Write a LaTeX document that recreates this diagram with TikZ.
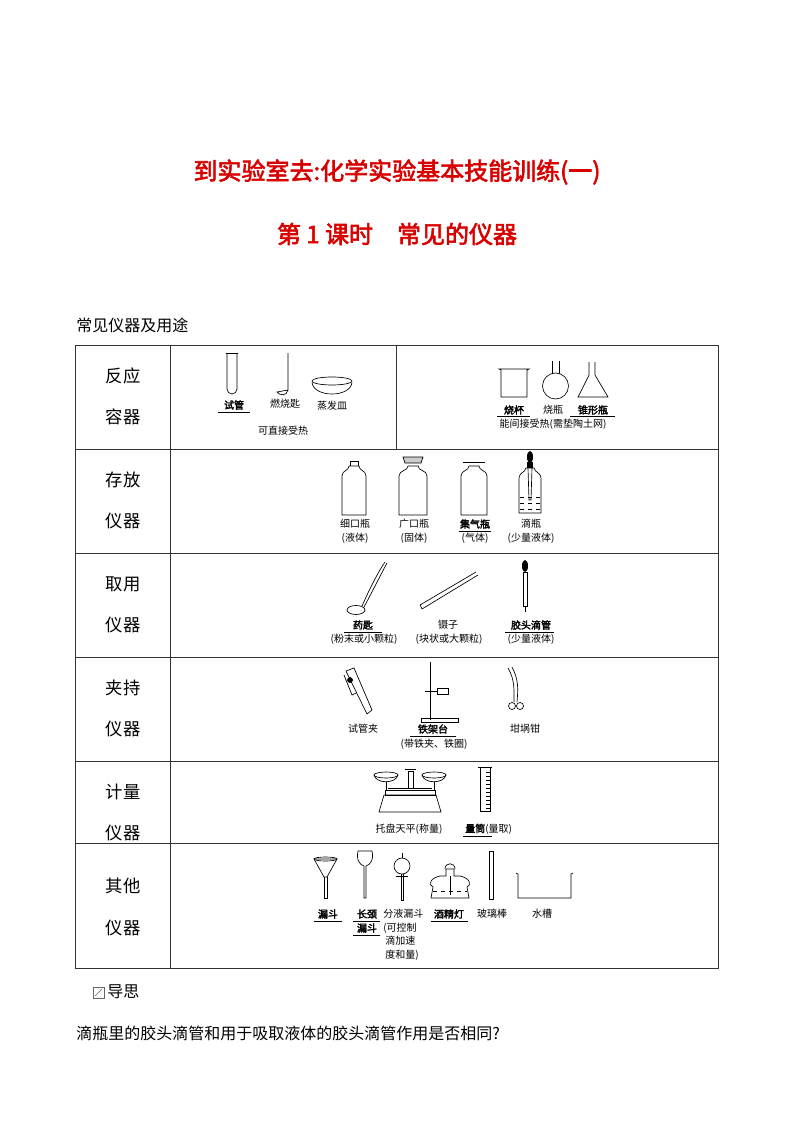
\documentclass[tikz,border=0pt]{standalone}
\usepackage{fontspec}
\setmainfont{Noto Sans CJK SC}[AutoFakeBold=2.5]
\begin{document}
\begin{tikzpicture}[x=0.75pt,y=-0.75pt,
  tb/.style={line width=0.6pt,draw=black!80},
  ins/.style={line width=0.5pt,draw=black},
  capt/.style={font=\fontsize{7.5}{9}\selectfont,inner sep=0pt,anchor=center},
  bcapt/.style={capt,font=\fontsize{7.5}{9}\selectfont\bfseries},
  rowlab/.style={font=\fontsize{13}{15}\selectfont,inner sep=0pt},
  uline/.style={line width=0.5pt}]
\useasboundingbox (0,0) rectangle (794,1123);
\fill[white] (0,0) rectangle (794,1123);
% titles
\node[text=red!85!black,font=\fontsize{18}{20}\selectfont\bfseries] (t1) at (397,172) {到实验室去:化学实验基本技能训练(一)};
\node[text=red!85!black,font=\fontsize{18}{20}\selectfont\bfseries] (t2) at (397,234) {第 1 课时\quad 常见的仪器};
\node[font=\fontsize{12}{14}\selectfont,anchor=west,inner sep=0pt] (h) at (76,325) {常见仪器及用途};
% table
\draw[tb] (75,345) rectangle (718,968);
\foreach \y in {449,553,657,761,843} \draw[tb] (75,\y) -- (718,\y);
\draw[tb] (170,345) -- (170,968);
\draw[tb] (396,345) -- (396,449);
\foreach \y/\a/\b in {345/反应/容器,449/存放/仪器,553/取用/仪器,657/夹持/仪器,761/计量/仪器} {
  \node[rowlab] at (123,\y+31) {\a};
  \node[rowlab] at (123,\y+72) {\b};
}
\node[rowlab] (r6a) at (123,886) {其他};
\node[rowlab] (r6b) at (123,928) {仪器};
% ---- row 1
\draw[ins] (227,353) -- (227,389) arc (180:0:5) -- (237,353);
\draw[ins] (226,353) -- (238,353);
\draw[ins] (288,353) -- (288,390) .. controls (287,396) and (280,396) .. (277,392) -- (288,390);
\draw[ins] (312,382) .. controls (313,398) and (351,398) .. (352,382);
\draw[ins] (332,381) ellipse (20 and 4);
\node[bcapt] (l11) at (234,405) {试管};
\draw[uline] (218,412) -- (250,412);
\node[capt] (l12) at (285,404) {燃烧匙};
\node[capt] (l13) at (332,406) {蒸发皿};
\node[capt] (l14) at (283,431) {可直接受热};
\draw[ins] (499,369) -- (501,370) -- (501,397) -- (527,397) -- (527,370) -- (529,369) -- cycle;
\draw[ins] (552,361) -- (552,373.5);
\draw[ins] (559,361) -- (559,373.5);
\draw[ins] (555.5,386) circle (13);
\draw[ins] (589,362) -- (589,375) -- (578,397) -- (608,397) -- (595,375) -- (595,362);
\node[bcapt] (l15) at (514,410) {烧杯};
\node[capt] (l16) at (553,410) {烧瓶};
\node[bcapt] (l17) at (593,410) {锥形瓶};
\draw[uline] (497,416) -- (530,416);
\draw[uline] (570,416) -- (615,416);
\node[capt] (l18) at (553,424) {能间接受热(需垫陶土网)};
% ---- row 2
\foreach \cx/\hw in {354/12,413/14,474/13} {
  \draw[ins] (\cx-\hw,476) .. controls (\cx-\hw,470) and (\cx-5,471) .. (\cx-5,466) -- (\cx+5,466) .. controls (\cx+5,471) and (\cx+\hw,470) .. (\cx+\hw,476) -- (\cx+\hw,515) -- (\cx-\hw,515) -- cycle;
}
\draw[ins] (350,466) -- (350,461) -- (358,461) -- (358,466);
\draw[ins,fill=black!20] (405,463) -- (403,457) -- (423,457) -- (421,463) -- cycle;
\draw[ins] (463,462) -- (485,462);
\draw[ins] (519,479) -- (519,513) -- (541,513) -- (541,479) .. controls (541,472) and (535,473) .. (534,468) -- (526,468) .. controls (525,473) and (519,472) .. (519,479);
\fill (527,462) rectangle (533,468);
\fill (530,457) ellipse (3 and 6);
\draw[ins] (528,468) -- (529,500) -- (531,500) -- (532,468);
\draw[ins,dashed] (520,497) -- (540,497);
\draw[ins,dashed] (520,503) -- (540,503);
\draw[ins,dashed] (520,509) -- (540,509);
\node[capt] (l21) at (355,524) {细口瓶};
\node[capt] (l22) at (355,538) {(液体)};
\node[capt] (l23) at (414,524) {广口瓶};
\node[capt] (l24) at (414,538) {(固体)};
\node[bcapt] (l25) at (475,524) {集气瓶};
\draw[uline] (459,531) -- (491,531);
\node[capt] (l26) at (475,538) {(气体)};
\node[capt] (l27) at (531,524) {滴瓶};
\node[capt] (l28) at (531,538) {(少量液体)};
% ---- row 3
\draw[ins] (385,562) .. controls (376,575) and (366,597) .. (362,606);
\draw[ins] (387,563) .. controls (379,578) and (369,598) .. (364,607);
\draw[ins] (356,610) ellipse (9 and 4.5);
\draw[ins] (420,605) -- (476,572);
\draw[ins] (422,609) -- (478,575);
\draw[ins] (420,605) -- (422,609);
\fill (525,566) ellipse (3 and 6);
\draw[ins] (523,572) rectangle (527,606);
\draw[ins] (525,606) -- (525,612);
\node[bcapt] (l31) at (363,625) {药匙};
\draw[uline] (344,632) -- (382,632);
\node[capt] (l32) at (364,639) {(粉末或小颗粒)};
\node[capt] (l33) at (448,625) {镊子};
\node[capt] (l34) at (449,639) {(块状或大颗粒)};
\node[bcapt] (l35) at (531,625) {胶头滴管};
\draw[uline] (505,632) -- (554,632);
\node[capt] (l36) at (531,639) {(少量液体)};
% ---- row 4
\draw[ins] (346,671) -- (354,668) -- (372,710) -- (367,714) -- cycle;
\draw[ins,fill=black] (350,680) circle (2.5);
\draw[ins] (344,675) -- (352,695) -- (356,693);
\draw[ins] (430,662) -- (430,720);
\draw[ins] (421,718) rectangle (458,722);
\draw[ins] (425,691) -- (437,691);
\draw[ins] (437,688) rectangle (448,694);
\draw[ins] (508,668) .. controls (515,680) and (514,690) .. (514,702);
\draw[ins] (512,667) .. controls (519,680) and (518,690) .. (517,702);
\draw[ins] (512,706) circle (3.5);
\draw[ins] (520,706) circle (3.5);
\node[capt] (l41) at (363,729) {试管夹};
\node[bcapt] (l42) at (433,729) {铁架台};
\draw[uline] (410,736) -- (456,736);
\node[capt] (l43) at (434,744) {(带铁夹、铁圈)};
\node[capt] (l44) at (525,729) {坩埚钳};
% ---- row 5
\draw[ins] (379,812) -- (384,795) -- (436,795) -- (441,812) -- cycle;
\draw[ins] (385,795) rectangle (435,790);
\draw[ins] (388,788) -- (432,788);
\draw[ins] (408,771) rectangle (413,788);
\draw[ins] (405,769) -- (416,769);
\draw[ins] (374,775) .. controls (376,784) and (396,784) .. (398,775);
\draw[ins] (386,775) ellipse (12 and 3);
\draw[ins] (422,775) .. controls (424,784) and (444,784) .. (446,775);
\draw[ins] (434,775) ellipse (12 and 3);
\draw[ins] (386,782) -- (386,790);
\draw[ins] (434,782) -- (434,790);
\draw[ins] (480,768) -- (480,811) -- (490,811) -- (490,768);
\draw[ins] (478,767) -- (492,767);
\foreach \yy in {772,776,...,808} \draw[line width=0.3pt] (486,\yy) -- (490,\yy);
\node[capt] (l51) at (409,829) {托盘天平(称量)};
\node[capt,anchor=west] (l52) at (465,829) {\textbf{量筒}(量取)};
\draw[uline] (463,836) -- (492,836);
% ---- row 6
\draw[ins] (314,859) -- (337,859) -- (327,877) -- (324,877) -- cycle;
\draw[ins] (325.5,859) ellipse (11.5 and 2);
\draw[ins] (324,877) -- (324,898) -- (327,898) -- (327,877);
\draw[ins] (358,851) .. controls (356,860) and (360,865) .. (364,866) -- (364,898) -- (366,898) -- (366,866) .. controls (370,865) and (374,860) .. (372,851) -- cycle;
\draw[ins] (402,853) -- (402,858);
\draw[ins] (402,866) circle (8);
\draw[ins] (401,874) -- (401,900) -- (403,900) -- (403,874);
\draw[ins] (396,876) -- (408,876);
\draw[ins] (433,887) .. controls (428,885) and (430,878) .. (440,876) -- (446,876) -- (446,869) -- (454,869) -- (454,876) -- (460,876) .. controls (470,878) and (472,885) .. (467,887) -- (469,898) -- (431,898) -- cycle;
\draw[ins] (445,869) .. controls (445,862) and (455,862) .. (455,869);
\draw[ins] (450,876) -- (450,895);
\draw[ins,dashed] (433,891) -- (467,891);
\draw[ins] (489,851) -- (489,899) -- (493,899) -- (493,851) -- cycle;
\draw[ins] (516,873) -- (518,874) -- (518,898) -- (571,898) -- (571,874) -- (573,873);
\node[bcapt] (l61) at (328,914) {漏斗};
\draw[uline] (314,921) -- (342,921);
\node[bcapt] (l62) at (367,914) {长颈};
\draw[uline] (353,921) -- (380,921);
\node[bcapt] (l63) at (367,928) {漏斗};
\draw[uline] (353,935) -- (380,935);
\node[capt,anchor=west] (l64) at (383,914) {分液漏斗};
\node[capt,anchor=west] (l65) at (383,928) {(可控制};
\node[capt,anchor=west] (l66) at (385,941) {滴加速};
\node[capt,anchor=west] (l67) at (385,955) {度和量)};
\node[bcapt] (l68) at (449,914) {酒精灯};
\draw[uline] (431,921) -- (468,921);
\node[capt] (l69) at (492,914) {玻璃棒};
\node[capt] (l6a) at (542,914) {水槽};
% footer
\draw[black!60,line width=0.5pt] (93,987) rectangle (104,998);
\draw[black!60,line width=0.4pt] (95,996) -- (102,989);
\node[font=\fontsize{12}{14}\selectfont,anchor=west,inner sep=0pt] (ds) at (107,992) {导思};
\node[font=\fontsize{12}{14}\selectfont,anchor=west,inner sep=0pt] (q) at (76,1033) {滴瓶里的胶头滴管和用于吸取液体的胶头滴管作用是否相同?};
\end{tikzpicture}
\end{document}
